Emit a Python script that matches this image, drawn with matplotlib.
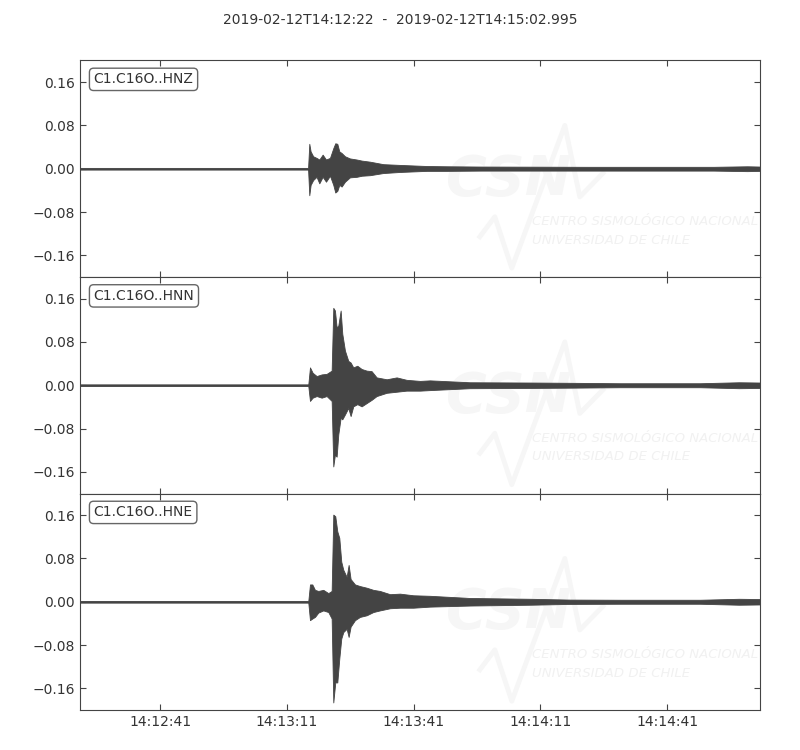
import datetime as dt

import matplotlib
matplotlib.use("Agg")
import matplotlib.pyplot as plt
import matplotlib.dates as mdates

# envelope of each trace (seconds after start, amplitude)
start = dt.datetime(2019, 2, 12, 14, 12, 22)
duration = 160.995

hnz_t = [0, 54.0, 54.29, 54.6, 55.2, 56.0, 56.66, 57.45, 58.24, 59.18, 59.97, 60.44,
         60.92, 61.39, 61.94, 62.73, 63.9, 65.5, 66.7, 68.65, 71.8, 75.8, 82.1, 87.0,
         95.0, 120.0, 150.0, 158.0, 160.995]
hnz_up = [0.0015, 0.0015, 0.046, 0.032, 0.023, 0.020, 0.017, 0.026, 0.017, 0.020, 0.038,
          0.047, 0.046, 0.032, 0.029, 0.023, 0.019, 0.017, 0.015, 0.013, 0.0084, 0.007,
          0.005, 0.0045, 0.004, 0.0035, 0.0035, 0.0045, 0.004]
hnz_lo = [-0.0015, -0.0015, -0.049, -0.030, -0.021, -0.015, -0.027, -0.015, -0.024,
          -0.013, -0.030, -0.044, -0.041, -0.030, -0.033, -0.024, -0.016, -0.015, -0.013,
          -0.012, -0.008, -0.006, -0.004, -0.004, -0.0035, -0.0035, -0.0035, -0.0045, -0.004]

hnn_t = [0, 54.05, 54.45, 55.08, 56.03, 57.21, 58.39, 59.58, 59.97, 60.36, 60.76, 61.15,
         61.71, 62.1, 62.73, 63.52, 64.07, 64.7, 65.65, 66.68, 67.86, 69.04, 70.23, 72.6,
         74.96, 77.3, 80.5, 82.85, 92.3, 106.5, 116.0, 127.8, 146.8, 156.0, 160.995]
hnn_up = [0.0015, 0.0015, 0.033, 0.023, 0.017, 0.020, 0.021, 0.027, 0.143, 0.138, 0.107,
          0.110, 0.138, 0.095, 0.064, 0.045, 0.042, 0.033, 0.036, 0.030, 0.027, 0.026,
          0.0145, 0.011, 0.0145, 0.010, 0.008, 0.009, 0.0055, 0.005, 0.0045, 0.0037,
          0.0037, 0.0055, 0.005]
hnn_lo = [-0.0015, -0.0015, -0.029, -0.023, -0.020, -0.023, -0.020, -0.029, -0.150,
          -0.128, -0.132, -0.091, -0.060, -0.063, -0.054, -0.042, -0.057, -0.039, -0.035,
          -0.039, -0.033, -0.027, -0.020, -0.014, -0.012, -0.010, -0.010, -0.009, -0.0055,
          -0.005, -0.0045, -0.0037, -0.0037, -0.0055, -0.005]

hne_t = [0, 54.05, 54.45, 55.0, 55.63, 56.42, 57.6, 58.79, 59.58, 59.97, 60.44, 60.92,
         61.39, 61.86, 62.34, 63.13, 63.6, 64.07, 65.1, 66.28, 67.86, 69.44, 71.0, 73.4,
         75.75, 78.9, 82.85, 92.3, 106.5, 116.0, 127.8, 146.8, 156.0, 160.995]
hne_up = [0.0015, 0.0015, 0.032, 0.032, 0.022, 0.020, 0.022, 0.016, 0.020, 0.161, 0.158,
          0.130, 0.118, 0.074, 0.059, 0.046, 0.068, 0.042, 0.032, 0.029, 0.026, 0.022,
          0.020, 0.014, 0.015, 0.012, 0.011, 0.007, 0.0055, 0.004, 0.0037, 0.0037,
          0.0055, 0.005]
hne_lo = [-0.0015, -0.0015, -0.034, -0.031, -0.028, -0.020, -0.016, -0.019, -0.031,
          -0.186, -0.149, -0.149, -0.105, -0.068, -0.056, -0.050, -0.065, -0.046, -0.034,
          -0.028, -0.025, -0.019, -0.016, -0.012, -0.011, -0.011, -0.009, -0.007, -0.0055,
          -0.004, -0.0037, -0.0037, -0.0055, -0.005]

channels = ["C1.C16O..HNZ", "C1.C16O..HNN", "C1.C16O..HNE"]
traces = [(hnz_t, hnz_up, hnz_lo), (hnn_t, hnn_up, hnn_lo), (hne_t, hne_up, hne_lo)]
tick_times = ["14:12:41", "14:13:11", "14:13:41", "14:14:11", "14:14:41"]
yticks = [-0.16, -0.08, 0.0, 0.08, 0.16]

trace_color = "#444444"
text_color = "#333333"
wm_color = "#f6f6f6"


def to_dates(seconds):
    return [start + dt.timedelta(seconds=s) for s in seconds]


def add_watermark(ax):
    # faint CSN logo in the lower right of each panel
    wave_x = [0.588, 0.610, 0.635, 0.713, 0.735, 0.769]
    wave_y = [0.186, 0.278, 0.041, 0.700, 0.370, 0.479]
    ax.plot(wave_x, wave_y, transform=ax.transAxes, color=wm_color, lw=3.5, zorder=0)
    ax.text(0.63, 0.447, "CSN", transform=ax.transAxes, ha="center", va="center",
            fontsize=40, fontweight="bold", style="italic", color=wm_color, zorder=0)
    for y, line in [(0.255, "CENTRO SISMOLÓGICO NACIONAL"), (0.17, "UNIVERSIDAD DE CHILE")]:
        ax.text(0.665, y, line, transform=ax.transAxes, ha="left", va="center",
                fontsize=9.5, style="italic", color="#f1f1f1", zorder=0, clip_on=True)


fig = plt.figure(figsize=(8, 7.5), dpi=100)
bottoms = [0.6307, 0.3420, 0.0533]
height = 0.2887
axes = []
for i, ((t, up, lo), name) in enumerate(zip(traces, channels)):
    ax = fig.add_axes([0.1, bottoms[i], 0.85, height], sharex=axes[0] if axes else None)
    axes.append(ax)
    add_watermark(ax)
    ax.fill_between(to_dates(t), lo, up, color=trace_color, lw=0.6,
                    edgecolor=trace_color, zorder=2)
    ax.plot(to_dates([0, duration]), [0, 0], color=trace_color, lw=1.0, zorder=2)
    ax.set_ylim(-0.2, 0.2)
    ax.set_yticks(yticks)
    ax.yaxis.set_major_formatter(plt.FuncFormatter(lambda v, p: f"{v:.2f}".replace("-", "\u2212")))
    ax.tick_params(direction="in", top=True, right=True, colors=trace_color,
                   labelcolor=text_color, labelsize=10, length=4)
    for sp in ax.spines.values():
        sp.set_color(trace_color)
    ax.text(0.02, 0.945, name, transform=ax.transAxes, ha="left", va="top", fontsize=10,
            color=text_color,
            bbox=dict(boxstyle="round,pad=0.3", fc="white", ec="#666666", lw=1))
    if i < 2:
        plt.setp(ax.get_xticklabels(), visible=False)

axes[0].set_xlim(to_dates([0, duration]))
ticks = [dt.datetime.combine(start.date(), dt.datetime.strptime(s, "%H:%M:%S").time())
         for s in tick_times]
axes[-1].set_xticks(ticks)
axes[-1].xaxis.set_major_formatter(mdates.DateFormatter("%H:%M:%S"))

fig.text(0.5, 1 - 20 / 750, "2019-02-12T14:12:22  -  2019-02-12T14:15:02.995",
         ha="center", va="center", fontsize=10, color=text_color)

fig.savefig("out.png", dpi=100)
